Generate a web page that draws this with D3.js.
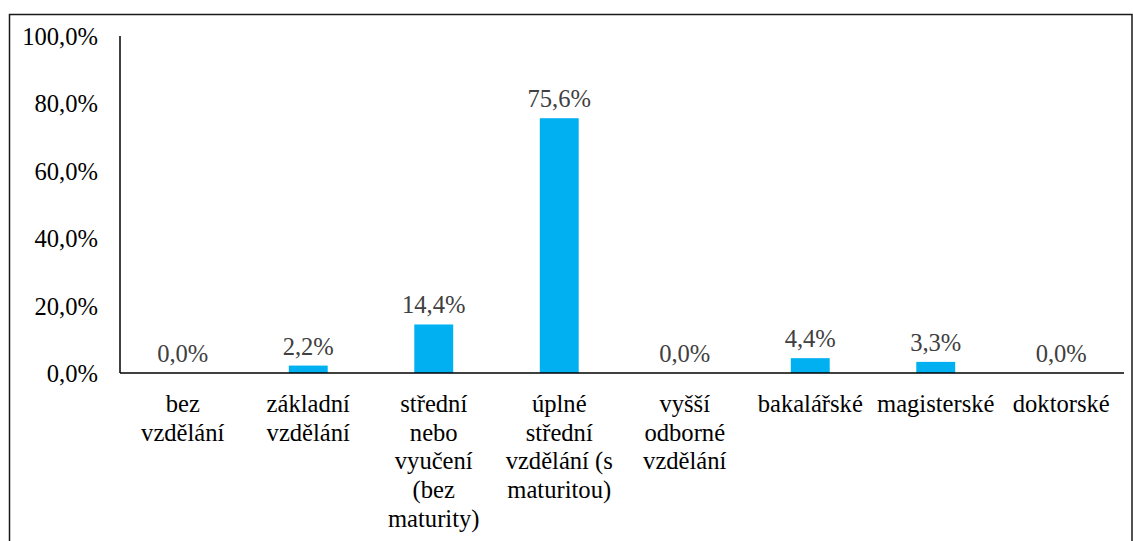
<!DOCTYPE html>
<html>
<head>
<meta charset="utf-8">
<script src="https://cdn.jsdelivr.net/npm/d3@7"></script>
</head>
<body style="margin:0">
<script>
//DATA
//-------------------------------------------------------------------------
const categories = [
	["bez", "vzdělání"],
	["základní", "vzdělání"],
	["střední", "nebo", "vyučení", "(bez", "maturity)"],
	["úplné", "střední", "vzdělání (s", "maturitou)"],
	["vyšší", "odborné", "vzdělání"],
	["bakalářské"],
	["magisterské"],
	["doktorské"]
];
const values = [0.0, 2.2, 14.4, 75.6, 0.0, 4.4, 3.3, 0.0];
const yTicks = [0, 20, 40, 60, 80, 100];

//opts
const opts = {
	width: 1133,
	height: 541,
	font: "Times New Roman",
	fontSize: "24.6px"
};

const fmt = v => v.toFixed(1).replace(".", ",") + "%";

const svg = d3.select("body")
	.append("svg")
	.attr("width", opts.width)
	.attr("height", opts.height)
	.attr("font-family", opts.font)
	.attr("font-size", opts.fontSize);

//outer frame
svg.append("rect")
	.attr("x", 9.5)
	.attr("y", 14.5)
	.attr("width", 1122.5)
	.attr("height", 600)
	.style("fill", "none")
	.style("stroke", "#1a1a1a")
	.style("stroke-width", 1.5);

const x = d3.scaleBand()
	.domain(d3.range(categories.length))
	.range([120, 1124])
	.paddingInner(0.69)
	.paddingOuter(0.345);

const y = d3.scaleLinear()
	.domain([0, 100])
	.range([373, 36]);

//y axis labels
svg.append("g")
	.selectAll("text")
	.data(yTicks)
	.join("text")
	.attr("x", 98)
	.attr("y", d => y(d) + 9)
	.attr("text-anchor", "end")
	.attr("fill", "#000")
	.text(d => fmt(d));

//bars
svg.append("g")
	.selectAll("rect")
	.data(values)
	.join("rect")
	.attr("x", (d, i) => x(i))
	.attr("y", d => y(d))
	.attr("width", x.bandwidth())
	.attr("height", d => y(0) - y(d))
	.attr("fill", "#00b0f0");

//value labels
svg.append("g")
	.selectAll("text")
	.data(values)
	.join("text")
	.attr("x", (d, i) => x(i) + x.bandwidth() / 2)
	.attr("y", d => y(d) - 11)
	.attr("text-anchor", "middle")
	.attr("fill", "#404040")
	.text(d => fmt(d));

//axes lines
svg.append("line")
	.attr("x1", 120).attr("x2", 120)
	.attr("y1", 36).attr("y2", 373)
	.attr("stroke", "#000").attr("stroke-width", 1.5);
svg.append("line")
	.attr("x1", 120).attr("x2", 1124)
	.attr("y1", 373).attr("y2", 373)
	.attr("stroke", "#000").attr("stroke-width", 1.5);

//category labels, one text per line
categories.forEach((lines, i) => {
	svg.append("g")
		.selectAll("text")
		.data(lines)
		.join("text")
		.attr("x", x(i) + x.bandwidth() / 2)
		.attr("y", (d, j) => 412 + j * 28.7)
		.attr("text-anchor", "middle")
		.attr("fill", "#000")
		.text(d => d);
});
</script>
</body>
</html>
